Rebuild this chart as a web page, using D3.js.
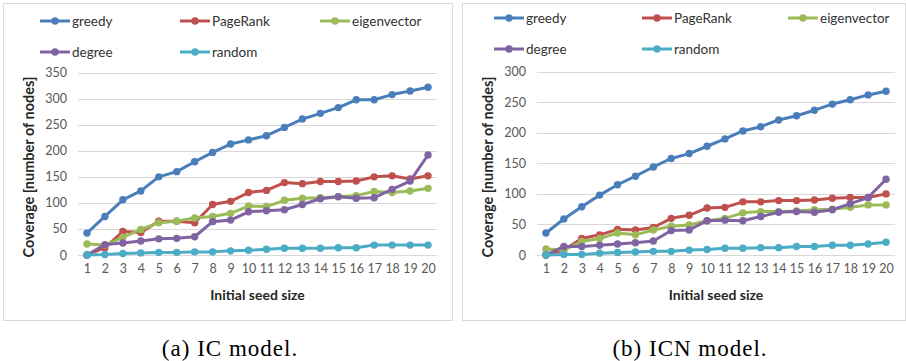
<!DOCTYPE html>
<html>
<head>
<meta charset="utf-8">
<script src="https://cdn.jsdelivr.net/npm/d3@7"></script>
<style>
  body { margin: 0; background: #fff; }
  svg { display: block; }
</style>
</head>
<body>
<svg width="906" height="361"></svg>
<script>
// Kategorier (initial seed size)
const seeds = [1, 2, 3, 4, 5, 6, 7, 8, 9, 10, 11, 12, 13, 14, 15, 16, 17, 18, 19, 20];
const seriesNames = ["greedy", "PageRank", "eigenvector", "degree", "random"];
const seriesColors = ["#4a7ebb", "#c0504d", "#9bbb59", "#8064a2", "#4bacc6"];

// (a) IC model
const icGreedy = [42, 74, 106, 123, 150, 160, 179, 197, 213, 221, 229, 245, 261, 272, 283, 298, 298, 308, 315, 322];
const icPageRank = [0, 14, 45, 43, 65, 65, 62, 97, 103, 120, 124, 139, 137, 141, 141, 142, 150, 152, 146, 152];
const icEigen = [21, 19, 34, 49, 62, 65, 71, 74, 80, 94, 93, 105, 109, 110, 112, 114, 122, 120, 123, 128];
const icDegree = [0, 20, 23, 27, 31, 32, 35, 64, 67, 83, 85, 87, 97, 108, 112, 109, 110, 126, 142, 192];
const icRandom = [0, 1, 3, 4, 5, 5, 6, 6, 8, 9, 11, 13, 13, 13, 14, 14, 19, 19, 19, 19];
const icTicks = [0, 50, 100, 150, 200, 250, 300, 350];

// (b) ICN model
const icnGreedy = [36, 59, 79, 98, 115, 129, 144, 158, 166, 178, 190, 203, 210, 221, 228, 237, 247, 254, 262, 268];
const icnPageRank = [0, 8, 27, 33, 42, 41, 45, 60, 65, 77, 78, 87, 87, 89, 89, 90, 93, 94, 94, 100];
const icnEigen = [10, 8, 22, 27, 36, 33, 41, 47, 49, 56, 60, 69, 71, 71, 72, 74, 75, 78, 82, 82];
const icnDegree = [0, 14, 14, 16, 18, 20, 23, 40, 41, 56, 57, 56, 63, 70, 71, 70, 74, 84, 94, 124];
const icnRandom = [0, 1, 1, 3, 4, 5, 6, 6, 8, 9, 11, 11, 12, 12, 14, 14, 16, 16, 18, 21];
const icnTicks = [0, 50, 100, 150, 200, 250, 300];

const svg = d3.select("svg");
const font = "Lato, 'Open Sans', sans-serif";

// Tegner et panel med legend, akser og linjer
function drawPanel(p) {
  const g = svg.append("g");

  // ramme
  g.append("rect")
    .attr("x", p.box[0] + 0.5).attr("y", 3.5)
    .attr("width", p.box[1] - p.box[0]).attr("height", 317)
    .attr("fill", "#fff").attr("stroke", "#d9d9d9");

  const x = d3.scalePoint().domain(seeds).range(p.xr).padding(0.5);
  const y = d3.scaleLinear().domain([0, d3.max(p.ticks)]).range([255, p.yTop]);

  // gitterlinjer
  g.selectAll(".grid").data(p.ticks).join("line")
    .attr("x1", p.xr[0]).attr("x2", p.xr[1])
    .attr("y1", d => Math.round(y(d)) + 0.5).attr("y2", d => Math.round(y(d)) + 0.5)
    .attr("stroke", "#d9d9d9");

  // y akse
  const yAxis = g.append("g")
    .attr("transform", `translate(${p.xr[0] - 11},0)`)
    .call(d3.axisLeft(y).tickValues(p.ticks).tickSize(0).tickPadding(0));
  yAxis.select(".domain").remove();
  yAxis.selectAll("text").attr("font-family", font).attr("font-size", 12.5).attr("fill", "#595959");

  // x akse
  const xAxis = g.append("g")
    .attr("transform", "translate(0,262)")
    .call(d3.axisBottom(x).tickSize(0).tickPadding(2));
  xAxis.select(".domain").remove();
  xAxis.selectAll("text").attr("font-family", font).attr("font-size", 12.5).attr("fill", "#595959");

  // akse titler
  g.append("text")
    .attr("transform", `translate(${p.yTitleX},167) rotate(-90)`)
    .attr("text-anchor", "middle").attr("dy", "0.35em")
    .attr("font-family", font).attr("font-weight", "bold").attr("font-size", 14.5)
    .attr("fill", "#262626")
    .text("Coverage [number of nodes]");

  g.append("text")
    .attr("x", (p.xr[0] + p.xr[1]) / 2).attr("y", 300)
    .attr("text-anchor", "middle")
    .attr("font-family", font).attr("font-weight", "bold").attr("font-size", 14)
    .attr("fill", "#262626")
    .text("Initial seed size");

  // linjer
  const line = d3.line().x((d, i) => x(seeds[i])).y(d => y(d));
  p.series.forEach((vals, si) => {
    g.append("path")
      .datum(vals)
      .attr("d", line)
      .attr("fill", "none")
      .attr("stroke", seriesColors[si])
      .attr("stroke-width", 3)
      .attr("stroke-linejoin", "round");
    g.selectAll(null).data(vals).join("circle")
      .attr("cx", (d, i) => x(seeds[i]))
      .attr("cy", d => y(d))
      .attr("r", 3.7)
      .attr("fill", seriesColors[si]);
  });

  // legend
  seriesNames.forEach((name, i) => {
    const lx = p.legX[i % 3];
    const ly = i < 3 ? p.legY[0] : p.legY[1];
    const lg = g.append("g").attr("transform", `translate(${lx},${ly})`);
    lg.append("line").attr("x1", 0).attr("x2", 30).attr("y1", 0).attr("y2", 0)
      .attr("stroke", seriesColors[i]).attr("stroke-width", 3);
    lg.append("circle").attr("cx", 15).attr("cy", 0).attr("r", 3.7).attr("fill", seriesColors[i]);
    lg.append("text").attr("x", 32).attr("y", 0).attr("dy", "0.35em")
      .attr("font-family", font).attr("font-size", 13.5).attr("fill", "#333")
      .text(name);
  });

  // billedtekst
  svg.append("text")
    .attr("x", p.capX).attr("y", 356)
    .attr("text-anchor", "middle")
    .attr("font-family", "'Liberation Serif', 'DejaVu Serif', serif")
    .attr("font-size", 23).attr("letter-spacing", 1).attr("fill", "#000")
    .text(p.caption);
}

drawPanel({
  box: [3, 452], xr: [78, 437], yTop: 72.7, ticks: icTicks,
  series: [icGreedy, icPageRank, icEigen, icDegree, icRandom],
  legX: [40, 180, 320], legY: [21, 52], yTitleX: 29,
  capX: 230, caption: "(a) IC model."
});

drawPanel({
  box: [462, 905], xr: [537, 895], yTop: 71.7, ticks: icnTicks,
  series: [icnGreedy, icnPageRank, icnEigen, icnDegree, icnRandom],
  legX: [494, 642, 788], legY: [18, 49], yTitleX: 488,
  capX: 690, caption: "(b) ICN model."
});
</script>
</body>
</html>
